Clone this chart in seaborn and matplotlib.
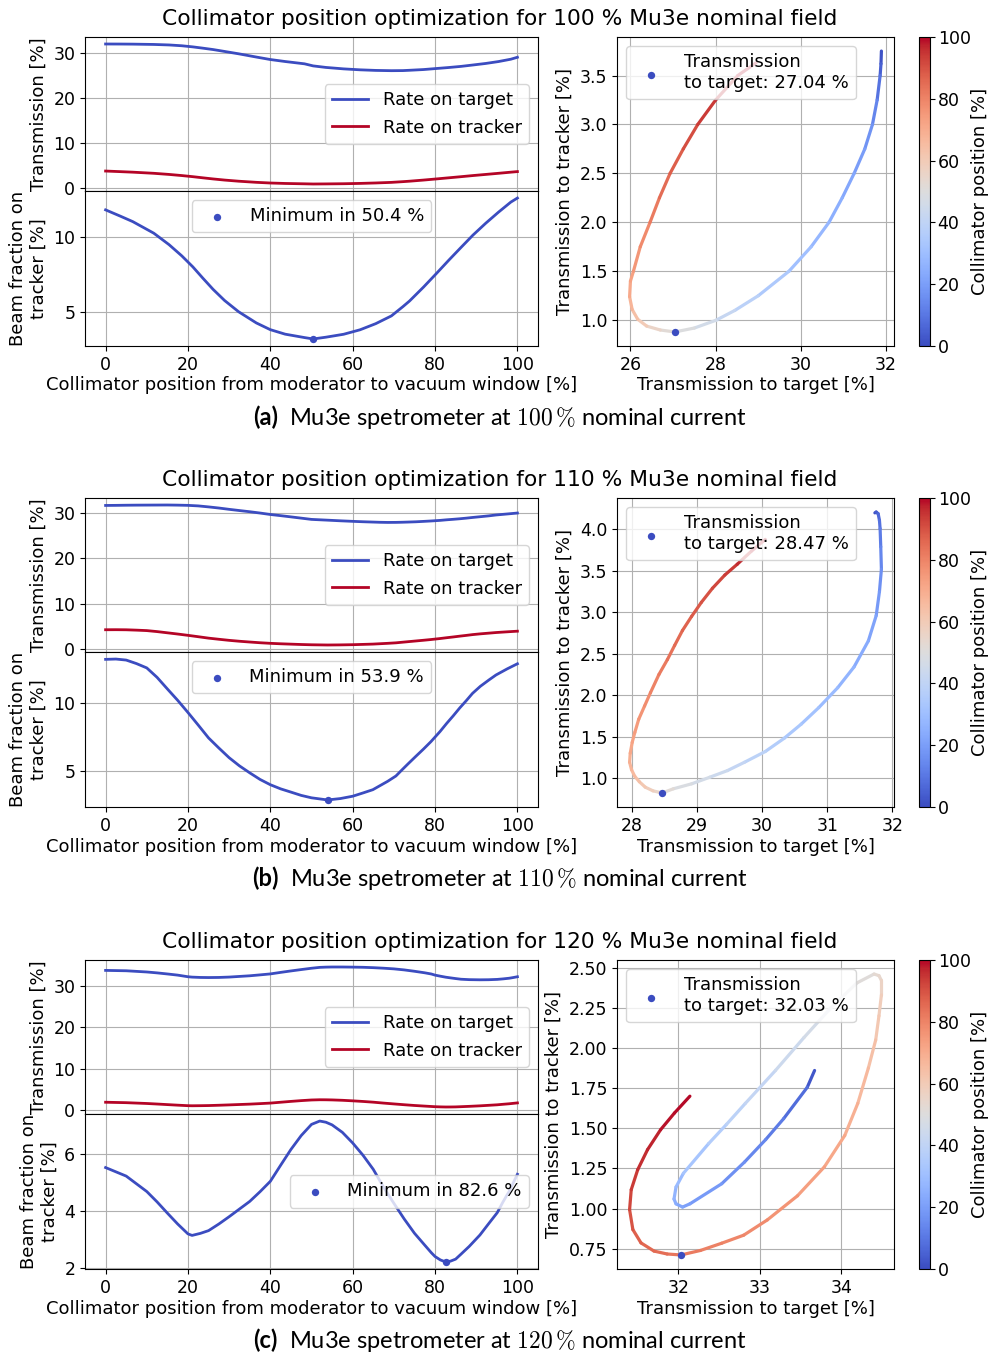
import numpy as np
import pandas as pd
import matplotlib
matplotlib.use("Agg")
import matplotlib.pyplot as plt
import matplotlib.ticker as mticker
import seaborn as sns
from matplotlib.collections import LineCollection
from matplotlib.colors import Normalize
from matplotlib.cm import ScalarMappable
from matplotlib.offsetbox import TextArea, HPacker, AnchoredOffsetbox

# ---------------- data ----------------
fields = [100, 110, 120]

# Panel (a): 100 % nominal
pos_a = [0, 3.5, 6.6, 11.7, 15.4, 18.5, 21.2, 23.6, 26.1, 28.9, 32.3, 36.6, 40, 43.6, 48.3, 50.4,
         53.5, 57.8, 61.8, 65.6, 69.4, 72.2, 73.8, 77.2, 80.3, 83.3, 86.3, 89.2, 92.3, 95.4, 98.4, 100]
target_a = [31.89, 31.88, 31.86, 31.79, 31.68, 31.50, 31.25, 30.97, 30.66, 30.24, 29.72, 29.00, 28.45,
            28.01, 27.50, 27.04, 26.70, 26.38, 26.17, 26.04, 25.98, 26.00, 26.07, 26.23, 26.46, 26.68,
            26.93, 27.24, 27.58, 28.00, 28.52, 28.95]
tracker_a = [3.75, 3.62, 3.50, 3.25, 3.00, 2.75, 2.50, 2.25, 2.00, 1.75, 1.50, 1.25, 1.10, 1.00, 0.92,
             0.88, 0.90, 0.94, 1.01, 1.11, 1.24, 1.40, 1.50, 1.75, 2.00, 2.25, 2.50, 2.75, 3.00, 3.25,
             3.50, 3.63]

# Panel (b): 110 % nominal
pos_b = [0, 2.5, 5, 7.5, 10, 12.5, 15, 17.5, 20, 22.5, 25, 27.5, 30, 32.5, 35, 37.5, 40, 42.5, 45,
         47.5, 50, 53.9, 57, 60, 62.5, 64.9, 66.6, 68.5, 70.5, 72.0, 73.4, 75.3, 77.2, 79.0, 81.2,
         82.8, 84.4, 86.0, 87.6, 89.1, 91.0, 93.1, 94.8, 97.5, 100]
target_b = [31.73, 31.75, 31.78, 31.80, 31.81, 31.82, 31.83, 31.80, 31.75, 31.63, 31.41, 31.16, 30.87,
            30.60, 30.34, 30.05, 29.73, 29.47, 29.20, 28.92, 28.64, 28.47, 28.33, 28.21, 28.12, 28.05,
            28.00, 27.97, 27.98, 28.01, 28.05, 28.11, 28.20, 28.29, 28.42, 28.55, 28.66, 28.78, 28.92,
            29.07, 29.24, 29.43, 29.62, 29.84, 30.05]
tracker_b = [4.20, 4.21, 4.19, 4.11, 4.01, 3.79, 3.52, 3.25, 2.96, 2.655, 2.34, 2.09, 1.85, 1.65, 1.48,
             1.32, 1.19, 1.09, 1.01, 0.93, 0.87, 0.82, 0.845, 0.89, 0.955, 1.02, 1.10, 1.19, 1.30, 1.43,
             1.55, 1.71, 1.87, 2.03, 2.25, 2.43, 2.60, 2.78, 2.95, 3.12, 3.29, 3.45, 3.58, 3.74, 3.88]

# Panel (c): 120 % nominal
pos_c = [0, 5, 10, 12.5, 15, 17.5, 20, 21, 23, 25, 27.5, 30, 35, 37.5, 40, 42.5, 45, 47.5, 50, 52,
         53.5, 55, 57.5, 60, 62.5, 65, 67.5, 70, 72.5, 75, 77.5, 79.1, 80, 81.3, 82.6, 83.8, 85, 86.3,
         88.3, 90.9, 93.0, 95.1, 96.5, 98.0, 99.0, 100]
target_c = [33.67, 33.58, 33.29, 33.07, 32.81, 32.53, 32.14, 32.05, 31.97, 31.945, 31.97, 32.06, 32.37,
            32.59, 32.82, 33.19, 33.54, 33.87, 34.19, 34.40, 34.46, 34.49, 34.49, 34.46, 34.42, 34.33,
            34.20, 34.04, 33.79, 33.46, 33.09, 32.80, 32.53, 32.27, 32.03, 31.86, 31.70, 31.54, 31.44,
            31.40, 31.42, 31.50, 31.62, 31.78, 31.95, 32.14]
tracker_c = [1.86, 1.755, 1.56, 1.43, 1.29, 1.155, 1.03, 1.01, 1.03, 1.06, 1.135, 1.22, 1.405, 1.525,
             1.655, 1.86, 2.065, 2.25, 2.405, 2.46, 2.45, 2.42, 2.33, 2.20, 2.05, 1.875, 1.655, 1.455,
             1.26, 1.08, 0.93, 0.835, 0.785, 0.74, 0.712, 0.718, 0.736, 0.787, 0.87, 0.994, 1.118, 1.243,
             1.367, 1.491, 1.595, 1.70]

right_xticks = [[26, 28, 30, 32], [28, 29, 30, 31, 32], [32, 33, 34]]
right_yticks = [[1.0, 1.5, 2.0, 2.5, 3.0, 3.5], [1.0, 1.5, 2.0, 2.5, 3.0, 3.5, 4.0],
                [0.75, 1.00, 1.25, 1.50, 1.75, 2.00, 2.25, 2.50]]
right_yfmt = ["%.1f", "%.1f", "%.2f"]
pos_ticks = [0, 20, 40, 60, 80, 100]
cbar_ticks = [0, 20, 40, 60, 80, 100]
panel_letters = ["a", "b", "c"]
minleg_loc = ["upper center", "upper center", "center right"]

panels = [(pos_a, target_a, tracker_a), (pos_b, target_b, tracker_b), (pos_c, target_c, tracker_c)]

# ---------------- style ----------------
FS = 13
plt.rcParams.update({
    "font.family": ["DejaVu Sans"],
    "font.size": FS,
    "axes.labelsize": FS,
    "xtick.labelsize": 12.5,
    "ytick.labelsize": 12.5,
    "legend.fontsize": FS,
    "axes.grid": True,
    "grid.color": "#b0b0b0",
    "grid.linewidth": 0.8,
    "axes.linewidth": 0.8,
    "mathtext.fontset": "cm",
})

blue = "#3b4cc0"
red = "#b40426"
cmap = "coolwarm"
norm = Normalize(0, 100)

W, H = 990, 1356
fig = plt.figure(figsize=(W / 100, H / 100), dpi=100)


def rect(x0, y0, x1, y1):
    return [x0 / W, 1 - y1 / H, (x1 - x0) / W, (y1 - y0) / H]


offsets = [0, 461, 923]

for i, (pos, target, tracker) in enumerate(panels):
    o = offsets[i]
    df = pd.DataFrame({"pos": pos, "target": target, "tracker": tracker})
    df["fraction"] = df["tracker"] / df["target"] * 100
    imin = int(df["fraction"].idxmin())

    # --- left top: transmission
    ax_t = fig.add_axes(rect(85, 37 + o, 538, 191 + o))
    ax_b = fig.add_axes(rect(85, 191 + o, 538, 346 + o), sharex=ax_t)
    sns.lineplot(data=df, x="pos", y="target", ax=ax_t, color=blue, lw=2, label="Rate on target")
    sns.lineplot(data=df, x="pos", y="tracker", ax=ax_t, color=red, lw=2, label="Rate on tracker")
    ax_t.legend(loc="center right")
    ax_t.set_xlabel("")
    ax_t.set_ylabel("Transmission [%]")
    ax_t.tick_params(labelbottom=False)

    # --- left bottom: fraction
    sns.lineplot(data=df, x="pos", y="fraction", ax=ax_b, color=blue, lw=2)
    sns.scatterplot(x=[df["pos"][imin]], y=[df["fraction"][imin]], ax=ax_b, color=blue, s=28,
                    linewidth=0, zorder=3, label=f"Minimum in {df['pos'][imin]:.1f} %")
    ax_b.legend(loc=minleg_loc[i])
    ax_b.set_xticks(pos_ticks)
    ax_b.set_xlabel("Collimator position from moderator to vacuum window [%]", labelpad=2)
    ax_b.set_ylabel("Beam fraction on\ntracker [%]")

    # --- right: parametric curve coloured by position
    ax_r = fig.add_axes(rect(617, 37 + o, 894, 346 + o))
    pts = np.column_stack([df["target"].values, df["tracker"].values])
    segs = np.stack([pts[:-1], pts[1:]], axis=1)
    pv = df["pos"].values
    lc = LineCollection(segs, cmap=cmap, norm=norm, linewidth=2.3, capstyle="round", joinstyle="round")
    lc.set_array((pv[:-1] + pv[1:]) / 2)
    ax_r.add_collection(lc, autolim=True)
    ax_r.autoscale_view()
    sns.scatterplot(x=[df["target"][imin]], y=[df["tracker"][imin]], ax=ax_r, color=blue, s=28,
                    linewidth=0, zorder=3,
                    label=f"Transmission\nto target: {df['target'][imin]:.2f} %")
    ax_r.legend(loc="upper left")
    ax_r.set_xticks(right_xticks[i])
    ax_r.set_yticks(right_yticks[i])
    ax_r.yaxis.set_major_formatter(mticker.FormatStrFormatter(right_yfmt[i]))
    ax_r.set_xlabel("Transmission to target [%]", labelpad=2)
    ax_r.set_ylabel("Transmission to tracker [%]")

    # --- colorbar
    cax = fig.add_axes(rect(919, 37 + o, 930, 346 + o))
    cb = fig.colorbar(ScalarMappable(norm=norm, cmap=cmap), cax=cax)
    cb.set_ticks(cbar_ticks)
    cax.tick_params(pad=2)
    cb.set_label("Collimator position [%]", labelpad=0)
    cax.grid(False)

    # --- title
    fig.text(500 / W, 1 - (19 + o) / H,
             f"Collimator position optimization for {fields[i]} % Mu3e nominal field",
             ha="center", va="center", fontsize=15.7)

    # --- caption
    t1 = TextArea(f"({panel_letters[i]})", textprops=dict(fontfamily="Lato", fontweight="bold", fontsize=17))
    t2 = TextArea(rf"Mu3e spetrometer at ${fields[i]}\,\%$ nominal current",
                  textprops=dict(fontfamily="Lato", fontsize=17))
    pack = HPacker(children=[t1, t2], align="baseline", pad=0, sep=8)
    ab = AnchoredOffsetbox(loc="center", child=pack, frameon=False, pad=0, borderpad=0,
                           bbox_to_anchor=(500 / W, 1 - (418 + o) / H), bbox_transform=fig.transFigure)
    fig.add_artist(ab)

fig.savefig("out.png", dpi=100)
